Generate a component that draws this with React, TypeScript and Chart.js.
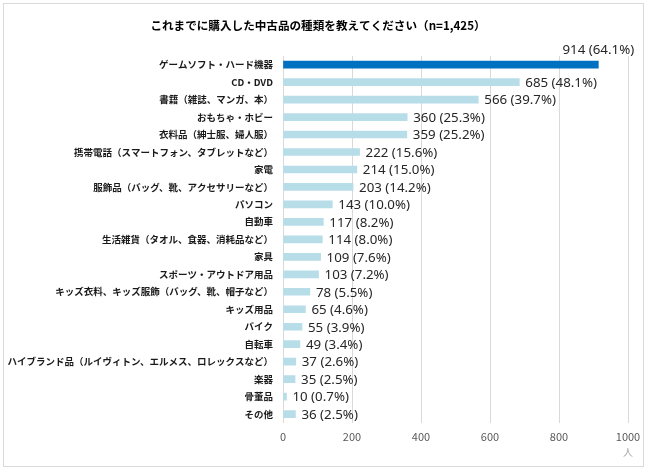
import React, { useEffect, useRef } from "react";
import { Chart, registerables } from "chart.js";

Chart.register(...registerables);

const categories = [
  "ゲームソフト・ハード機器",
  "CD・DVD",
  "書籍（雑誌、マンガ、本）",
  "おもちゃ・ホビー",
  "衣料品（紳士服、婦人服）",
  "携帯電話（スマートフォン、タブレットなど）",
  "家電",
  "服飾品（バッグ、靴、アクセサリーなど）",
  "パソコン",
  "自動車",
  "生活雑貨（タオル、食器、消耗品など）",
  "家具",
  "スポーツ・アウトドア用品",
  "キッズ衣料、キッズ服飾（バッグ、靴、帽子など）",
  "キッズ用品",
  "バイク",
  "自転車",
  "ハイブランド品（ルイヴィトン、エルメス、ロレックスなど）",
  "楽器",
  "骨董品",
  "その他",
];

const counts = [914, 685, 566, 360, 359, 222, 214, 203, 143, 117, 114, 109, 103, 78, 65, 55, 49, 37, 35, 10, 36];
const percents = [64.1, 48.1, 39.7, 25.3, 25.2, 15.6, 15.0, 14.2, 10.0, 8.2, 8.0, 7.6, 7.2, 5.5, 4.6, 3.9, 3.4, 2.6, 2.5, 0.7, 2.5];
const xTicks = [0, 200, 400, 600, 800, 1000];

const titleText = "これまでに購入した中古品の種類を教えてください（n=1,425）";
const unitText = "人";

const JP = "'Noto Sans CJK JP', 'Noto Sans', sans-serif";

const labelPlugin = {
  id: "valueLabels",
  afterDatasetsDraw(chart: any) {
    const ctx = chart.ctx;
    const meta = chart.getDatasetMeta(0);
    const area = chart.chartArea;
    ctx.save();
    ctx.font = "13.3px 'Noto Sans', sans-serif";
    ctx.fillStyle = "#262626";
    meta.data.forEach((bar: any, i: number) => {
      const text = `${counts[i]} (${percents[i].toFixed(1)}%)`;
      const w = ctx.measureText(text).width;
      if (bar.x + 6 + w > area.right + 12) {
        ctx.textAlign = "center";
        ctx.textBaseline = "middle";
        ctx.fillText(text, bar.x, bar.y - 14);
      } else {
        ctx.textAlign = "left";
        ctx.textBaseline = "middle";
        ctx.fillText(text, bar.x + 6, bar.y + 1);
      }
    });
    // unit label below the axis end
    ctx.font = `10px ${JP}`;
    ctx.fillStyle = "#A6A6A6";
    ctx.textAlign = "center";
    ctx.textBaseline = "middle";
    const xs = chart.scales.x;
    ctx.fillText(unitText, xs.getPixelForValue(1000), area.bottom + 29);
    ctx.restore();
  },
};

export default function App() {
  const ref = useRef<HTMLCanvasElement>(null);

  useEffect(() => {
    if (!ref.current) return;
    const chart = new Chart(ref.current, {
      type: "bar",
      data: {
        labels: categories,
        datasets: [
          {
            data: counts,
            backgroundColor: counts.map((_, i) => (i === 0 ? "#0070C0" : "#B7DEE8")),
            borderWidth: 0,
            barThickness: 7,
          },
        ],
      },
      options: {
        indexAxis: "y",
        animation: false,
        responsive: false,
        maintainAspectRatio: false,
        layout: { padding: { left: 8, right: 22, top: 6, bottom: 22 } },
        plugins: {
          legend: { display: false },
          tooltip: { enabled: false },
          title: {
            display: true,
            text: titleText,
            color: "#000000",
            font: { family: JP, size: 11.6, weight: "bold" },
            padding: { top: 13, bottom: 23 },
          },
        },
        scales: {
          x: {
            min: 0,
            max: 1000,
            afterBuildTicks: (scale: any) => {
              scale.ticks = xTicks.map((v) => ({ value: v }));
            },
            grid: { color: "#D9D9D9", drawTicks: false },
            border: { display: false },
            ticks: {
              color: "#595959",
              font: { family: JP, size: 11 },
              padding: 7,
              callback: (v: any) => String(v),
            },
          },
          y: {
            grid: { display: false, drawTicks: false },
            border: { display: false },
            ticks: {
              color: "#1a1a1a",
              font: { family: JP, size: 9.5, weight: "bold" },
              padding: 10,
              autoSkip: false,
            },
            afterFit: (scale: any) => {
              scale.width = 275;
            },
          },
        },
      } as any,
      plugins: [labelPlugin],
    });
    return () => chart.destroy();
  }, []);

  return (
    <div style={{ position: "absolute", left: 0, top: 0, width: 650, height: 472, background: "#fff" }}>
      <div
        style={{
          position: "absolute",
          left: 3,
          top: 3,
          width: 641,
          height: 464,
          border: "1px solid #D9D9D9",
          boxSizing: "border-box",
        }}
      />
      <canvas ref={ref} width={650} height={472} style={{ position: "absolute", left: 0, top: 0 }} />
    </div>
  );
}
